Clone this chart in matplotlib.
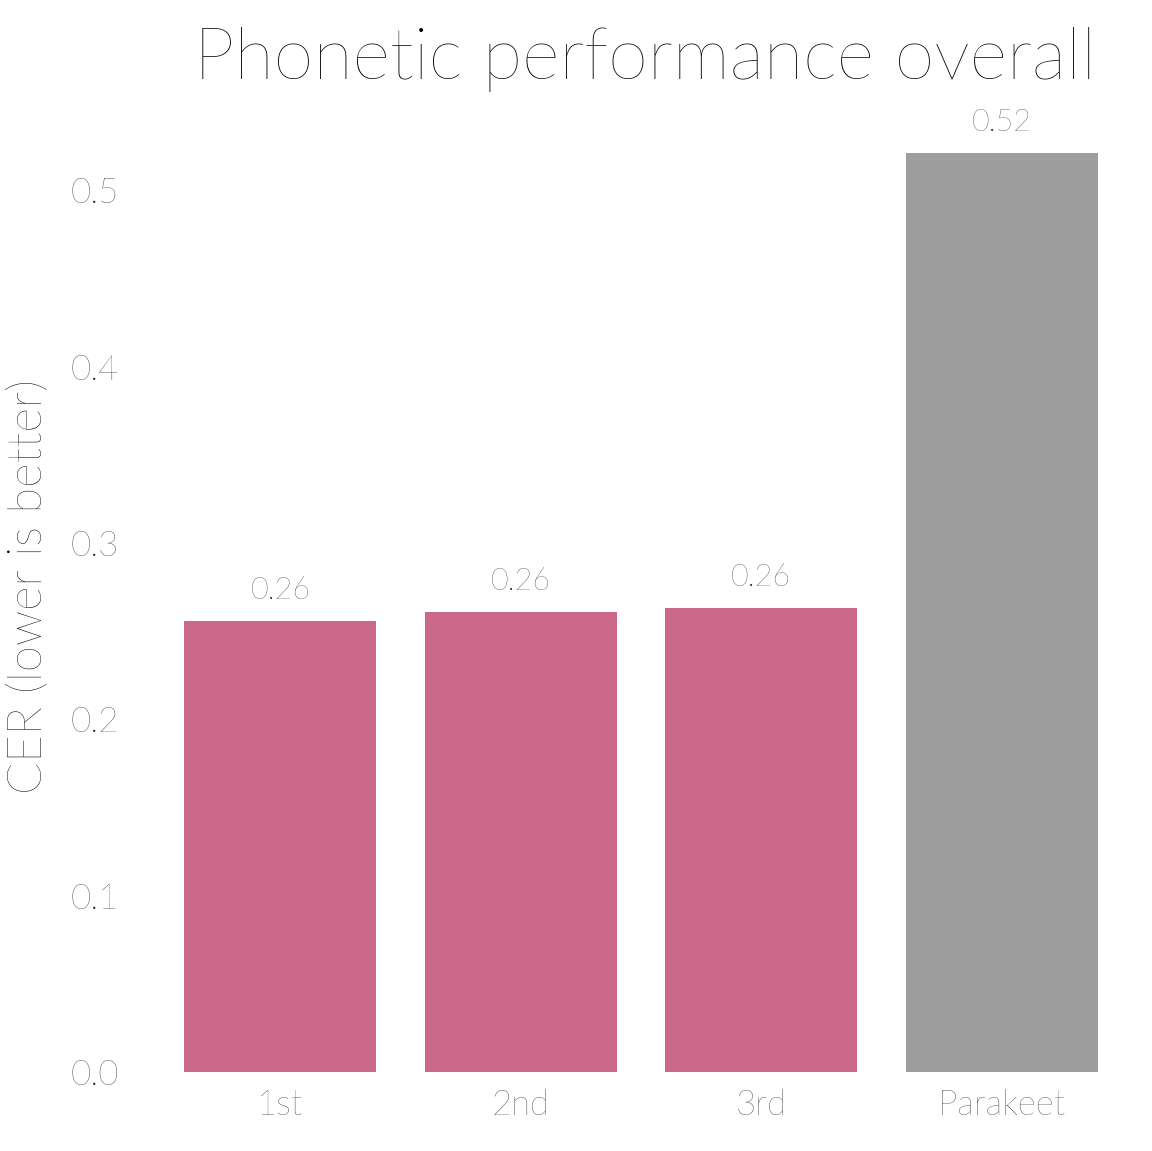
import matplotlib
matplotlib.use("Agg")
import matplotlib.pyplot as plt

categories = ["1st", "2nd", "3rd", "Parakeet"]
cer = [0.256, 0.261, 0.263, 0.521]
bar_colors = ["#cb6889", "#cb6889", "#cb6889", "#9e9e9e"]

plt.rcParams['font.family'] = ['Lato', 'DejaVu Sans']
plt.rcParams['font.weight'] = 'light'

fig = plt.figure(figsize=(11.52, 11.51), dpi=100)
ax = fig.add_axes([136 / 1152, 1 - 1072 / 1151, 1010 / 1152, (1072 - 102) / 1151])

x = range(len(categories))
bars = ax.bar(x, cer, width=0.8, color=bar_colors)
for xi, v in zip(x, cer):
    ax.text(xi, v + 0.009, f"{v:.2f}", ha='center', va='bottom', fontsize=22,
            color='#222222', fontweight='light')

ax.set_xlim(-0.6, 3.6)
ax.set_ylim(0, 0.55)
ax.set_yticks([0.0, 0.1, 0.2, 0.3, 0.4, 0.5])
ax.set_yticklabels(["0.0", "0.1", "0.2", "0.3", "0.4", "0.5"])
ax.set_xticks(list(x))
ax.set_xticklabels(categories)
ax.tick_params(axis='both', length=0, labelsize=25, labelcolor='#222222', pad=12)
for s in ax.spines.values():
    s.set_visible(False)
ax.set_ylabel("CER (lower is better)", fontsize=34, fontweight='light', labelpad=14)
fig.text(0.56, 0.948, "Phonetic performance overall", ha='center', va='center',
         fontsize=52, fontweight='light')

fig.savefig("out.png", dpi=100)
